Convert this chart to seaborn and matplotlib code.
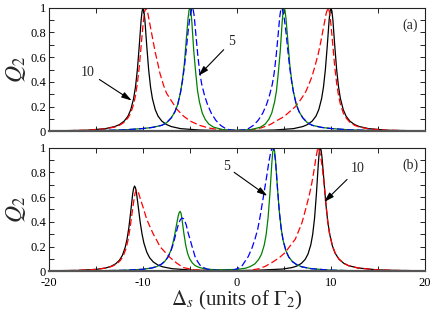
import matplotlib
matplotlib.use("Agg")
import matplotlib.pyplot as plt
from matplotlib.ticker import MultipleLocator, FuncFormatter
import seaborn as sns

# ---------------- data ----------------
# Top panel (a)
top_black_x = [-20, -16, -14, -13, -12.5, -12, -11.6, -11.3, -11, -10.8, -10.6, -10.4, -10.2, -10.1, -10, -9.9,
               -9.8, -9.6, -9.4, -9.2, -9, -8.7, -8.4, -8, -7.5, -7, -6, -4, -2, 0, 2, 4, 6, 7, 7.5, 8, 8.4,
               8.7, 9, 9.2, 9.4, 9.6, 9.8, 9.9, 10, 10.1, 10.2, 10.4, 10.6, 10.8, 11, 11.3, 11.6, 12, 12.5, 13,
               14, 16, 20]
top_black_y = [0.004, 0.010, 0.023, 0.040, 0.056, 0.084, 0.124, 0.177, 0.266, 0.36, 0.50, 0.69, 0.90, 0.97, 1.0,
               0.97, 0.90, 0.69, 0.50, 0.36, 0.266, 0.177, 0.124, 0.084, 0.056, 0.040, 0.023, 0.012, 0.008, 0.007,
               0.008, 0.012, 0.023, 0.040, 0.056, 0.084, 0.124, 0.177, 0.266, 0.36, 0.50, 0.69, 0.90, 0.97, 1.0,
               0.97, 0.90, 0.69, 0.50, 0.36, 0.266, 0.177, 0.124, 0.084, 0.056, 0.040, 0.023, 0.010, 0.004]

top_red_x = [-20, -16, -14, -13, -12.5, -12, -11.6, -11.3, -11, -10.8, -10.6, -10.4, -10.2, -10, -9.85, -9.7,
             -9.5, -9.3, -9.1, -8.9, -8.7, -8.4, -8.2, -7.8, -7.5, -7, -6.4, -5.7, -5, -4, -3, -2, -1, 0, 1, 2,
             2.6, 3.5, 4.4, 5, 5.6, 6.2, 6.8, 7.3, 7.6, 8, 8.3, 8.65, 8.9, 9.1, 9.3, 9.5, 9.7, 9.85, 10, 10.2,
             10.4, 10.6, 10.8, 11, 11.3, 11.6, 12, 12.5, 13, 14, 16, 20]
top_red_y = [0.004, 0.010, 0.021, 0.036, 0.050, 0.075, 0.11, 0.15, 0.22, 0.29, 0.39, 0.52, 0.69, 0.86, 0.96, 1.0,
             0.96, 0.88, 0.80, 0.72, 0.64, 0.54, 0.47, 0.37, 0.31, 0.25, 0.18, 0.125, 0.085, 0.05, 0.028, 0.016,
             0.011, 0.009, 0.012, 0.02, 0.03, 0.055, 0.095, 0.12, 0.16, 0.2, 0.26, 0.32, 0.37, 0.45, 0.53, 0.63,
             0.72, 0.80, 0.88, 0.96, 1.0, 0.96, 0.86, 0.69, 0.52, 0.39, 0.29, 0.22, 0.15, 0.11, 0.075, 0.050,
             0.036, 0.021, 0.010, 0.004]

top_green_x = [-20, -15, -12, -10, -9, -8, -7.5, -7, -6.6, -6.3, -6, -5.8, -5.6, -5.4, -5.2, -5.1, -5, -4.9, -4.8,
               -4.6, -4.4, -4.2, -4, -3.7, -3.4, -3, -2.5, -1.5, 0, 1.5, 2.5, 3, 3.4, 3.7, 4, 4.2, 4.4, 4.6, 4.8,
               4.9, 5, 5.1, 5.2, 5.4, 5.6, 5.8, 6, 6.3, 6.6, 7, 7.5, 8, 9, 10, 12, 15, 20]
top_green_y = [0.003, 0.007, 0.013, 0.024, 0.033, 0.05, 0.07, 0.11, 0.16, 0.22, 0.32, 0.42, 0.55, 0.74, 0.92, 0.98,
               1.0, 0.97, 0.88, 0.65, 0.48, 0.33, 0.24, 0.15, 0.10, 0.06, 0.035, 0.015, 0.01, 0.015, 0.035, 0.06,
               0.10, 0.15, 0.24, 0.33, 0.48, 0.65, 0.88, 0.97, 1.0, 0.98, 0.92, 0.74, 0.55, 0.42, 0.32, 0.22, 0.16,
               0.11, 0.07, 0.05, 0.033, 0.024, 0.013, 0.007, 0.003]

top_blue_x = [-20, -15, -12, -10, -9, -8, -7.5, -7, -6.6, -6.3, -6, -5.8, -5.6, -5.4, -5.2, -5, -4.85, -4.75, -4.65,
              -4.55, -4.35, -4.15, -3.95, -3.75, -3.45, -3.15, -2.75, -2.25, -1.75, -1.25, -0.75, 0, 0.75, 1.25,
              1.75, 2.25, 2.75, 3.15, 3.45, 3.75, 3.95, 4.15, 4.35, 4.55, 4.65, 4.75, 4.85, 5, 5.2, 5.4, 5.6, 5.8,
              6, 6.3, 6.6, 7, 7.5, 8, 9, 10, 12, 15, 20]
top_blue_y = [0.003, 0.007, 0.013, 0.024, 0.033, 0.05, 0.07, 0.11, 0.16, 0.22, 0.32, 0.41, 0.52, 0.66, 0.81, 0.93,
              0.98, 1.0, 0.98, 0.93, 0.76, 0.6, 0.47, 0.38, 0.29, 0.22, 0.15, 0.09, 0.05, 0.025, 0.013, 0.008,
              0.013, 0.025, 0.05, 0.09, 0.15, 0.22, 0.29, 0.38, 0.47, 0.6, 0.76, 0.93, 0.98, 1.0, 0.98, 0.93, 0.81,
              0.66, 0.52, 0.41, 0.32, 0.22, 0.16, 0.11, 0.07, 0.05, 0.033, 0.024, 0.013, 0.007, 0.003]

# Bottom panel (b)
bot_black_x = [-20, -17, -15, -14, -13.4, -12.9, -12.5, -12.2, -11.9, -11.7, -11.5, -11.3, -11.1, -11.0, -10.9,
               -10.8, -10.7, -10.5, -10.3, -10.1, -9.9, -9.6, -9.3, -8.9, -8.4, -7.9, -6.9, -4.9, -2, 0, 2, 4.85,
               5.85, 6.35, 6.85, 7.25, 7.55, 7.85, 8.05, 8.25, 8.45, 8.65, 8.75, 8.85, 8.95, 9.05, 9.25, 9.45, 9.65,
               9.85, 10.15, 10.45, 10.85, 11.35, 11.85, 12.85, 14.85, 16.85, 20]
bot_black_y = [0.004, 0.007, 0.0155, 0.026, 0.04, 0.061, 0.09, 0.128, 0.192, 0.259, 0.356, 0.487, 0.625, 0.67,
               0.69, 0.675, 0.638, 0.52, 0.397, 0.30, 0.227, 0.155, 0.11, 0.075, 0.05, 0.036, 0.021, 0.010, 0.006,
               0.006, 0.008, 0.018, 0.03, 0.042, 0.064, 0.096, 0.139, 0.214, 0.298, 0.43, 0.63, 0.871, 0.965, 1.0,
               0.978, 0.916, 0.731, 0.548, 0.405, 0.303, 0.205, 0.145, 0.098, 0.065, 0.046, 0.027, 0.012, 0.007,
               0.004]

bot_red_x = [-20, -17, -15, -14, -13.3, -12.8, -12.4, -12.1, -11.8, -11.6, -11.4, -11.2, -11.0, -10.85, -10.7,
             -10.5, -10.3, -10.0, -9.6, -9.2, -8.9, -8.5, -8.2, -7.6, -7.1, -6.4, -5.7, -4.6, -3, -1, 0, 1.2, 2.3,
             3.0, 3.7, 4.5, 5.1, 5.6, 6.2, 6.9, 7.4, 7.7, 7.95, 8.2, 8.4, 8.6, 8.8, 9.0, 9.25, 9.45, 9.65, 9.85,
             10.15, 10.45, 10.85, 11.35, 11.85, 12.85, 14.85, 16.85, 20]
bot_red_y = [0.004, 0.007, 0.015, 0.026, 0.04, 0.06, 0.088, 0.125, 0.185, 0.25, 0.34, 0.45, 0.56, 0.63, 0.66, 0.64,
             0.59, 0.52, 0.42, 0.35, 0.30, 0.245, 0.20, 0.15, 0.11, 0.065, 0.03, 0.012, 0.007, 0.006, 0.005, 0.006,
             0.02, 0.04, 0.07, 0.11, 0.15, 0.2, 0.26, 0.39, 0.53, 0.62, 0.71, 0.82, 0.92, 1.0, 0.97, 0.88, 0.72,
             0.548, 0.405, 0.303, 0.205, 0.145, 0.098, 0.065, 0.046, 0.027, 0.012, 0.007, 0.004]

bot_green_x = [-20, -15, -12.05, -10.05, -9.05, -8.55, -8.05, -7.65, -7.35, -7.05, -6.85, -6.65, -6.45, -6.25, -6.15,
               -6.05, -5.95, -5.85, -5.65, -5.45, -5.25, -5.05, -4.75, -4.45, -4.05, -3.55, -3.05, -2, 0, 0.9, 1.4,
               1.9, 2.3, 2.6, 2.9, 3.1, 3.3, 3.5, 3.7, 3.8, 3.9, 4.0, 4.1, 4.3, 4.5, 4.7, 4.9, 5.2, 5.5, 5.9, 6.4,
               6.9, 7.9, 9.9, 11.9, 15, 20]
bot_green_y = [0.002, 0.004, 0.008, 0.016, 0.027, 0.038, 0.057, 0.083, 0.115, 0.166, 0.218, 0.287, 0.37, 0.45, 0.475,
               0.485, 0.468, 0.42, 0.305, 0.208, 0.144, 0.103, 0.067, 0.046, 0.032, 0.022, 0.016, 0.012, 0.015,
               0.025, 0.038, 0.06, 0.095, 0.138, 0.213, 0.297, 0.429, 0.628, 0.871, 0.964, 1.0, 0.972, 0.894,
               0.678, 0.483, 0.345, 0.252, 0.166, 0.116, 0.078, 0.051, 0.036, 0.021, 0.0093, 0.0052, 0.003, 0.0015]

bot_blue_x = [-20, -15, -12.05, -10.05, -9.05, -8.55, -8.05, -7.65, -7.35, -7.05, -6.85, -6.65, -6.45, -6.25, -6.05,
              -5.9, -5.8, -5.7, -5.6, -5.4, -5.2, -5.0, -4.8, -4.6, -4.47, -4.2, -3.94, -3.5, -3.2, -2.5, -1.5, -0.5,
              0, 0.5, 1.2, 1.6, 1.91, 2.2, 2.45, 2.8, 3.16, 3.4, 3.6, 3.75, 3.95, 4.1, 4.3, 4.5, 4.7, 4.9, 5.2, 5.5,
              5.9, 6.4, 6.9, 7.9, 9.9, 11.9, 15, 20]
bot_blue_y = [0.002, 0.004, 0.008, 0.016, 0.027, 0.038, 0.057, 0.083, 0.115, 0.16, 0.205, 0.26, 0.32, 0.375, 0.415,
              0.428, 0.43, 0.426, 0.415, 0.375, 0.31, 0.26, 0.205, 0.155, 0.12, 0.08, 0.05, 0.028, 0.018, 0.01,
              0.007, 0.008, 0.02, 0.04, 0.12, 0.19, 0.26, 0.34, 0.44, 0.6, 0.77, 0.89, 0.97, 1.0, 0.98, 0.89,
              0.678, 0.483, 0.345, 0.252, 0.166, 0.116, 0.078, 0.051, 0.036, 0.021, 0.0093, 0.0052, 0.003, 0.0015]

x_ticks = [-20, -10, 0, 10, 20]
y_ticks = [0, 0.2, 0.4, 0.6, 0.8, 1]
panel_labels = ["(a)", "(b)"]
ylabel_text = r"$Q_2$"
xlabel_text = r"$\Delta_s$ (units of $\Gamma_2$)"
# annotations: (text, text position, arrow head position)
top_notes = [("10", (-15.85, 0.48), (-11.2, 0.25)), ("5", (-0.6, 0.725), (-4.1, 0.45))]
bot_notes = [("5", (-1.14, 0.846), (3.22, 0.61)), ("10", (12.87, 0.83), (9.26, 0.56))]

# ---------------- style ----------------
sns.set_style("ticks")
plt.rcParams["font.family"] = ["Liberation Serif", "DejaVu Serif"]
plt.rcParams["mathtext.fontset"] = "stix"
plt.rcParams["axes.unicode_minus"] = False

fig = plt.figure(figsize=(4.36, 3.17), dpi=100)
ax1 = fig.add_axes([0.1124, 0.5852, 0.8624, 0.3905])
ax2 = fig.add_axes([0.1124, 0.1442, 0.8624, 0.3899])

dash = (0, (5.5, 2.5))
lw = 0.9


def draw_panel(ax, bx, by, rx, ry, gx, gy, ux, uy):
    sns.lineplot(x=bx, y=by, ax=ax, color="black", lw=lw, errorbar=None, sort=False)
    sns.lineplot(x=rx, y=ry, ax=ax, color="#ff0000", lw=lw, linestyle=dash, errorbar=None, sort=False)
    sns.lineplot(x=gx, y=gy, ax=ax, color="#008000", lw=lw, errorbar=None, sort=False)
    sns.lineplot(x=ux, y=uy, ax=ax, color="#0000ff", lw=lw, linestyle=dash, errorbar=None, sort=False)


draw_panel(ax1, top_black_x, top_black_y, top_red_x, top_red_y, top_green_x, top_green_y, top_blue_x, top_blue_y)
draw_panel(ax2, bot_black_x, bot_black_y, bot_red_x, bot_red_y, bot_green_x, bot_green_y, bot_blue_x, bot_blue_y)

for ax, lab, notes in [(ax1, panel_labels[0], top_notes), (ax2, panel_labels[1], bot_notes)]:
    ax.set_xlim(-20, 20)
    ax.set_ylim(0, 1)
    ax.set_xticks(x_ticks)
    ax.xaxis.set_minor_locator(MultipleLocator(5))
    ax.set_yticks(y_ticks)
    ax.yaxis.set_minor_locator(MultipleLocator(0.1))
    ax.yaxis.set_major_formatter(FuncFormatter(lambda v, p: f"{v:g}"))
    ax.tick_params(which="both", direction="in", top=True, right=True, length=3.5, width=0.6,
                   labelsize=9, pad=2, colors="black")
    for s in ax.spines.values():
        s.set_linewidth(0.8)
        s.set_color("#222222")
    ax.spines["bottom"].set_linewidth(1.6)
    ax.spines["bottom"].set_color("#555555")
    ax.set_ylabel(ylabel_text, fontsize=17, labelpad=2)
    ax.text(18.4, 0.86, lab, ha="center", va="center", fontsize=10)
    for t, xyt, xyh in notes:
        ax.annotate(t, xy=xyh, xytext=xyt, ha="center", va="center", fontsize=10,
                    arrowprops=dict(arrowstyle="-|>,head_length=0.6,head_width=0.18", color="black",
                                    lw=0.8, shrinkA=1, shrinkB=0))

ax1.set_xlabel("")
ax1.tick_params(labelbottom=False)
ax2.tick_params(axis="x", pad=4)
ax2.set_xlabel(xlabel_text, fontsize=15, labelpad=0)

fig.savefig("out.png", dpi=100)
